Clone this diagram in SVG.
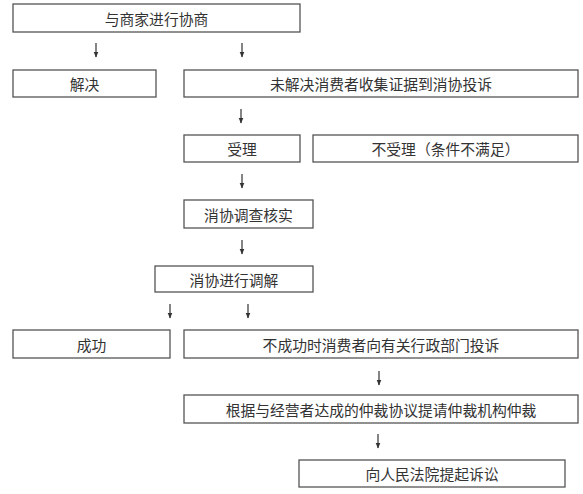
<svg xmlns="http://www.w3.org/2000/svg" width="583" height="494" viewBox="0 0 583 494">
<style>
.box{fill:#fff;stroke:#555;stroke-width:1.3}
.t{font-family:"Noto Sans CJK SC","Noto Sans CJK TC",sans-serif;font-size:14.8px;fill:#333;text-anchor:middle;dominant-baseline:central}
.c{stroke:#333;stroke-width:1.2;fill:none}
</style>
<defs>
<marker id="ah" viewBox="0 0 6 6" refX="5.5" refY="3" markerWidth="6" markerHeight="6" markerUnits="userSpaceOnUse" orient="auto">
<path d="M0,0.5 L6,3 L0,5.5 Z" fill="#333"/>
</marker>
</defs>
<rect width="583" height="494" fill="#fff"/>
<g id="connectors">
<line class="c" x1="96" y1="43" x2="96" y2="57" marker-end="url(#ah)"/>
<line class="c" x1="242" y1="43" x2="242" y2="57" marker-end="url(#ah)"/>
<line class="c" x1="241" y1="109" x2="241" y2="123" marker-end="url(#ah)"/>
<line class="c" x1="242" y1="174" x2="242" y2="188" marker-end="url(#ah)"/>
<line class="c" x1="242" y1="240" x2="242" y2="254" marker-end="url(#ah)"/>
<line class="c" x1="170" y1="304" x2="170" y2="318" marker-end="url(#ah)"/>
<line class="c" x1="248" y1="304" x2="248" y2="318" marker-end="url(#ah)"/>
<line class="c" x1="379" y1="371" x2="379" y2="385" marker-end="url(#ah)"/>
<line class="c" x1="378" y1="434" x2="378" y2="448" marker-end="url(#ah)"/>
</g>
<g id="n1"><rect class="box" x="13" y="4" width="287" height="28"/><text class="t" x="156.5" y="18">与商家进行协商</text></g>
<g id="n2"><rect class="box" x="13" y="70" width="143" height="27"/><text class="t" x="84.5" y="83.5">解决</text></g>
<g id="n3"><rect class="box" x="184" y="70" width="394" height="27"/><text class="t" x="381" y="83.5">未解决消费者收集证据到消协投诉</text></g>
<g id="n4"><rect class="box" x="184" y="135" width="116" height="27"/><text class="t" x="242" y="148.5">受理</text></g>
<g id="n5"><rect class="box" x="313" y="135" width="265" height="27"/><text class="t" x="445.5" y="148.5">不受理（条件不满足）</text></g>
<g id="n6"><rect class="box" x="184" y="200" width="129" height="28"/><text class="t" x="248.5" y="214">消协调查核实</text></g>
<g id="n7"><rect class="box" x="155" y="266" width="158" height="26"/><text class="t" x="234" y="279">消协进行调解</text></g>
<g id="n8"><rect class="box" x="13" y="330" width="157" height="28"/><text class="t" x="91.5" y="344">成功</text></g>
<g id="n9"><rect class="box" x="184" y="330" width="394" height="28"/><text class="t" x="381" y="344">不成功时消费者向有关行政部门投诉</text></g>
<g id="n10"><rect class="box" x="184" y="395" width="394" height="28"/><text class="t" x="381" y="409">根据与经营者达成的仲裁协议提请仲裁机构仲裁</text></g>
<g id="n11"><rect class="box" x="299" y="460" width="266" height="27"/><text class="t" x="432" y="473.5">向人民法院提起诉讼</text></g>
</svg>
